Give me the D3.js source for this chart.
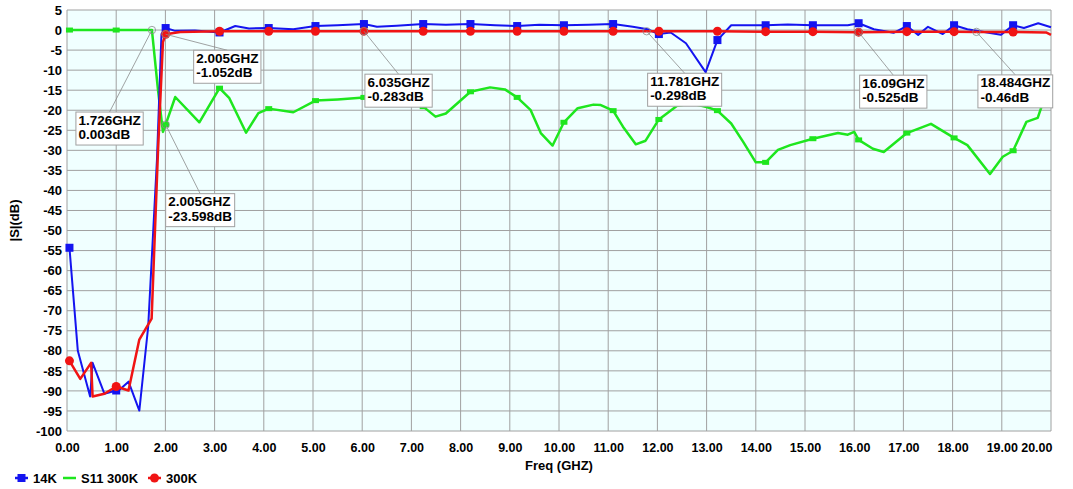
<html>
<head>
<style>
  body { margin: 0; background: #fff; }
  text { font-family: "Liberation Sans", Arial, sans-serif; font-weight: bold; }
</style>
<script src="https://d3js.org/d3.v7.min.js"></script>
</head>
<body>
<svg id="chart" width="1073" height="489"></svg>
<script>
// ---- data ----
const xTicks = d3.range(0, 21, 1);
const yTicks = d3.range(-100, 6, 5);

const markerFreqs = [0.05, 1.0, 2.005, 3.1, 4.1, 5.05, 6.035, 7.24, 8.2, 9.15, 10.1, 11.1, 12.03, 13.22, 14.2, 15.16, 16.09, 17.07, 18.03, 19.23];

const s14K = [[0.05,-54.3],[0.22,-80],[0.47,-91.4],[0.52,-83],[0.76,-90.7],[1.0,-89.9],[1.05,-89.9],[1.25,-87.7],[1.47,-94.9],[1.65,-74],[1.83,-32],[1.92,-1],[2.005,0.5],[2.2,-0.2],[2.6,-0.1],[3.1,-0.6],[3.42,1.0],[3.7,0.4],[4.1,0.5],[4.6,0.2],[5.05,1.0],[5.5,1.2],[6.035,1.5],[6.3,0.8],[6.7,1.1],[7.24,1.5],[7.7,1.3],[8.2,1.5],[8.7,1.2],[9.15,1.0],[9.6,1.3],[10.1,1.2],[10.6,1.3],[11.1,1.5],[11.5,0.8],[11.8,0.2],[12.03,-1.0],[12.27,-0.6],[12.58,-3.3],[12.98,-10.5],[13.22,-2.5],[13.5,1.2],[14.2,1.2],[14.65,1.4],[15.16,1.2],[15.87,1.2],[16.09,1.7],[16.4,0.2],[16.8,-0.7],[17.07,1.0],[17.3,-1.2],[17.5,0.8],[17.8,-1.0],[18.03,1.2],[18.3,0.2],[18.98,-1.2],[19.23,1.2],[19.45,0.5],[19.74,1.7],[20.0,0.7]];

const sS11_300K = [[0.05,0],[1.0,0],[1.726,0.003],[1.85,-15],[1.95,-25.4],[2.005,-23.6],[2.2,-16.7],[2.69,-23],[3.1,-14.5],[3.3,-17],[3.64,-25.6],[3.89,-20.7],[4.1,-19.6],[4.6,-20.5],[5.05,-17.6],[5.5,-17.3],[6.035,-16.8],[6.5,-17],[7.0,-18],[7.24,-19.1],[7.49,-21.6],[7.7,-20.8],[8.2,-15.4],[8.6,-14.3],[8.9,-14.8],[9.15,-16.8],[9.42,-19.9],[9.63,-25.7],[9.87,-28.8],[10.1,-23],[10.38,-19.5],[10.7,-18.6],[10.85,-18.7],[11.1,-20.1],[11.3,-24.1],[11.56,-28.5],[11.76,-27.6],[12.03,-22.3],[12.4,-18.9],[12.7,-18.3],[13.0,-19.2],[13.22,-20.1],[13.5,-23.3],[13.75,-28],[14.0,-33],[14.2,-33],[14.45,-29.9],[14.7,-28.7],[15.16,-27.1],[15.67,-25.7],[15.87,-26.1],[16.0,-25.4],[16.09,-27.4],[16.38,-29.6],[16.6,-30.4],[17.07,-25.7],[17.56,-23.4],[18.03,-26.9],[18.3,-28.7],[18.76,-35.9],[19.02,-31.6],[19.23,-30.1],[19.5,-22.9],[19.73,-21.9],[19.95,-14],[20.0,-12]];

const s300K = [[0.05,-82.5],[0.27,-87],[0.49,-83],[0.52,-91.4],[0.76,-90.7],[1.0,-88.9],[1.25,-89.9],[1.47,-77.2],[1.72,-72],[1.85,-30],[1.95,-3],[2.005,-1.052],[2.3,-0.5],[3.1,-0.3],[4.1,-0.3],[5.05,-0.3],[6.035,-0.283],[7.24,-0.3],[8.2,-0.3],[9.15,-0.3],[10.1,-0.3],[11.1,-0.3],[11.781,-0.298],[12.03,-0.3],[13.22,-0.3],[14.2,-0.4],[15.16,-0.4],[16.09,-0.525],[17.07,-0.4],[18.03,-0.4],[18.484,-0.46],[19.23,-0.5],[19.9,-0.6],[20.0,-1.2]];

const seriesNames = ["14K", "S11 300K", "300K"];

// callouts: frequency, value, label lines
const callouts = [
  { f: 1.726, v: 0.003, lines: ["1.726GHZ", "0.003dB"] },
  { f: 2.005, v: -1.052, lines: ["2.005GHZ", "-1.052dB"] },
  { f: 2.005, v: -23.598, lines: ["2.005GHZ", "-23.598dB"] },
  { f: 6.035, v: -0.283, lines: ["6.035GHZ", "-0.283dB"] },
  { f: 11.781, v: -0.298, lines: ["11.781GHZ", "-0.298dB"] },
  { f: 16.09, v: -0.525, lines: ["16.09GHZ", "-0.525dB"] },
  { f: 18.484, v: -0.46, lines: ["18.484GHZ", "-0.46dB"] }
];
// box offsets from the marked point (layout only)
const calloutOffsets = [[-76, 82], [28, 16], [0, 69], [1, 43], [1, 42], [1, 43], [1.5, 43]];

// ---- chart ----
const svg = d3.select('#chart');
const plotL = 67, plotR = 1051, plotT = 10, plotB = 431;

const x = d3.scaleLinear().domain([0, 20]).range([plotL, plotR]);
const y = d3.scaleLinear().domain([-100, 5]).range([plotB, plotT]);

// plot background
svg.append('rect')
  .attr('x', plotL).attr('y', plotT)
  .attr('width', plotR - plotL).attr('height', plotB - plotT)
  .style('fill', '#f0ffff');

// grid
svg.append('g').selectAll('line').data(xTicks).join('line')
  .attr('x1', d => x(d)).attr('x2', d => x(d))
  .attr('y1', plotT).attr('y2', plotB)
  .style('stroke', '#a0a0a0').style('stroke-width', 1);
svg.append('g').selectAll('line').data(yTicks).join('line')
  .attr('x1', plotL).attr('x2', plotR)
  .attr('y1', d => y(d)).attr('y2', d => y(d))
  .style('stroke', '#a0a0a0').style('stroke-width', 1);

// axes labels
const xAxis = svg.append('g')
  .attr('transform', `translate(0,${plotB})`)
  .call(d3.axisBottom(x).tickValues(xTicks).tickFormat(d3.format('.2f')).tickSize(0).tickPadding(12));
xAxis.select('.domain').remove();
xAxis.selectAll('text').style('font-size', '12.5px').style('fill', '#000')
  .style('font-family', '"Liberation Sans", Arial, sans-serif').style('font-weight', 'bold');
xAxis.selectAll('.tick').filter(d => d === 20).select('text')
  .attr('text-anchor', 'end').attr('dx', '1');

const yAxis = svg.append('g')
  .attr('transform', `translate(${plotL},0)`)
  .call(d3.axisLeft(y).tickValues(yTicks).tickFormat(d => d).tickSize(0).tickPadding(5));
yAxis.select('.domain').remove();
yAxis.selectAll('text').style('font-size', '13px').style('fill', '#000')
  .style('font-family', '"Liberation Sans", Arial, sans-serif').style('font-weight', 'bold');

svg.append('text')
  .attr('x', (plotL + plotR) / 2).attr('y', 470)
  .attr('text-anchor', 'middle').style('font-size', '13px')
  .text('Freq (GHZ)');

svg.append('text')
  .attr('transform', `translate(19,${(plotT + plotB) / 2}) rotate(-90)`)
  .attr('text-anchor', 'middle').style('font-size', '13px')
  .text('|S|(dB)');

// lines
const line = d3.line().x(d => x(d[0])).y(d => y(d[1]));
const isMarker = d => markerFreqs.includes(d[0]);

const seriesStyle = [
  { data: sS11_300K, color: '#1ee61e', width: 2.5, shape: 'rect' },
  { data: s14K, color: '#1414f0', width: 2, shape: 'square' },
  { data: s300K, color: '#f01414', width: 2.5, shape: 'circle' }
];

seriesStyle.forEach(s => {
  svg.append('path').datum(s.data)
    .attr('d', line)
    .style('fill', 'none').style('stroke', s.color)
    .style('stroke-width', s.width).style('stroke-linejoin', 'round');

  const pts = s.data.filter(isMarker);
  if (s.shape === 'circle') {
    svg.append('g').selectAll('circle').data(pts).join('circle')
      .attr('cx', d => x(d[0])).attr('cy', d => y(d[1])).attr('r', 4.5)
      .style('fill', s.color);
  } else {
    const w = s.shape === 'square' ? 8 : 7, h = s.shape === 'square' ? 8 : 5;
    svg.append('g').selectAll('rect').data(pts).join('rect')
      .attr('x', d => x(d[0]) - w / 2).attr('y', d => y(d[1]) - h / 2)
      .attr('width', w).attr('height', h)
      .style('fill', s.color);
  }
});

// callouts
callouts.forEach((c, i) => {
  const px = x(c.f), py = y(c.v);
  const bx = px + calloutOffsets[i][0], by = py + calloutOffsets[i][1];
  const g = svg.append('g');
  const leader = g.append('line').style('stroke', '#8a8a8a').style('stroke-width', 0.8);
  g.append('circle').attr('cx', px).attr('cy', py).attr('r', 3.7)
    .style('fill', 'none').style('stroke', '#8a8a8a').style('stroke-width', 0.8);
  const box = g.append('rect').style('fill', '#fff').style('stroke', '#a0a0a0').style('stroke-width', 1);
  const t = g.append('text').style('font-size', '13.5px');
  t.selectAll('tspan').data(c.lines).join('tspan')
    .attr('x', bx + 2.5).attr('y', (d, j) => by + 12.5 + j * 14.5)
    .text(d => d);
  const bw = t.node().getBBox().width + 5;
  box.attr('x', bx).attr('y', by).attr('width', bw).attr('height', 33);
  leader.attr('x1', px).attr('y1', py).attr('x2', bx + bw / 2).attr('y2', by);
});

// legend
const legend = [
  { name: seriesNames[0], color: '#1414f0', shape: 'square', x: 15 },
  { name: seriesNames[1], color: '#1ee61e', shape: 'rect', x: 63 },
  { name: seriesNames[2], color: '#f01414', shape: 'circle', x: 148 }
];
legend.forEach(l => {
  const g = svg.append('g').attr('transform', `translate(${l.x},478)`);
  g.append('line').attr('x1', 0).attr('x2', 13).attr('y1', 0).attr('y2', 0)
    .style('stroke', l.color).style('stroke-width', 2.5);
  if (l.shape === 'circle') g.append('circle').attr('cx', 6.5).attr('cy', 0).attr('r', 4.5).style('fill', l.color);
  else if (l.shape === 'square') g.append('rect').attr('x', 2.5).attr('y', -4).attr('width', 8).attr('height', 8).style('fill', l.color);
  g.append('text').attr('x', 18).attr('y', 5).style('font-size', '13px').text(l.name);
});
</script>
</body>
</html>
